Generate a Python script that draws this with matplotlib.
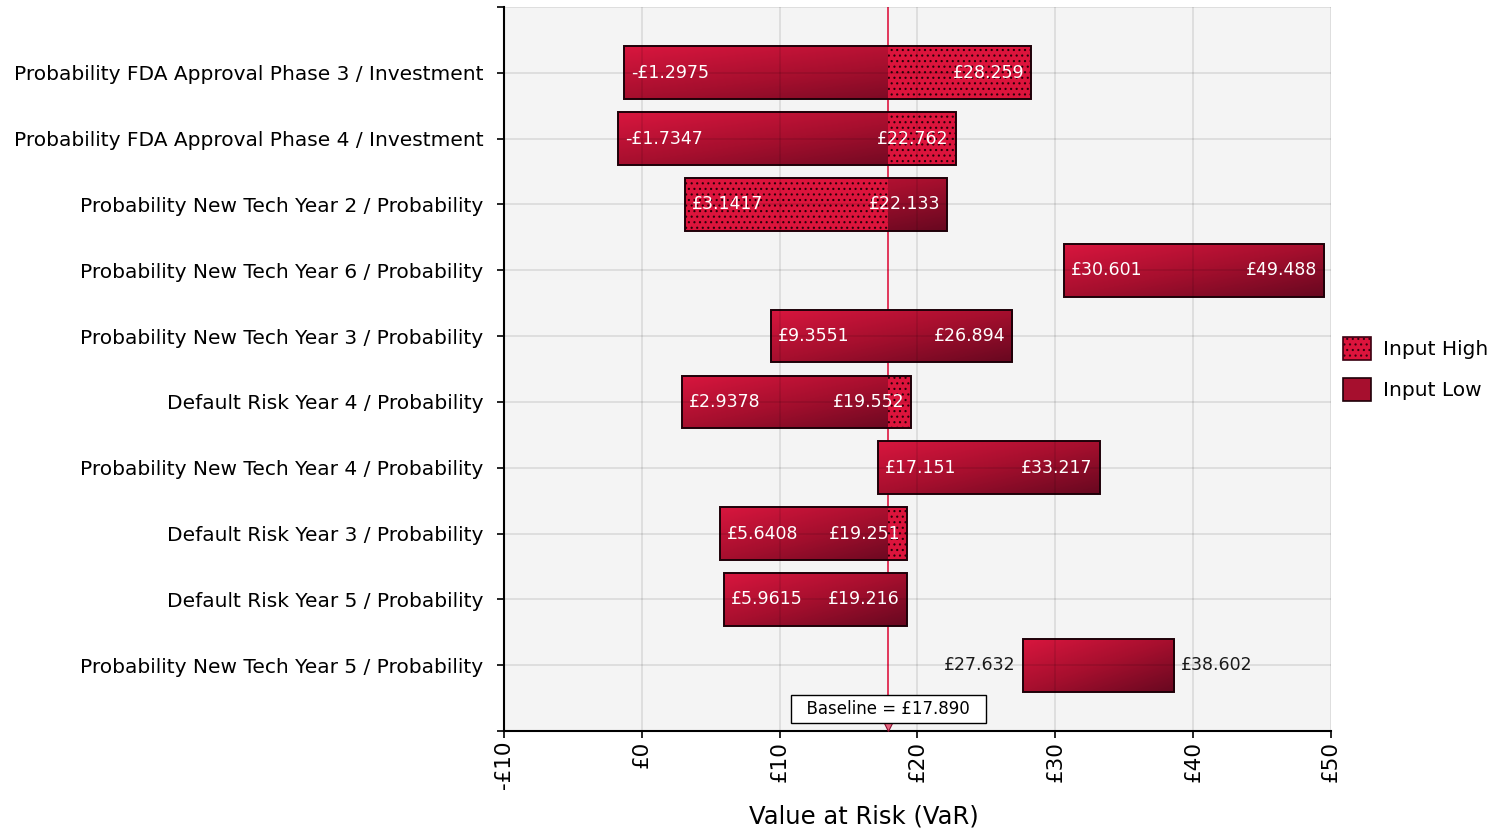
import numpy as np
import matplotlib
matplotlib.use("Agg")
import matplotlib.pyplot as plt
from matplotlib.patches import Rectangle, Patch
from matplotlib.colors import LinearSegmentedColormap

plt.rcParams['font.family'] = ['DejaVu Sans']
plt.rcParams['hatch.linewidth'] = 0.8

labels = [
    "Probability FDA Approval Phase 3 / Investment",
    "Probability FDA Approval Phase 4 / Investment",
    "Probability New Tech Year 2 / Probability",
    "Probability New Tech Year 6 / Probability",
    "Probability New Tech Year 3 / Probability",
    "Default Risk Year 4 / Probability",
    "Probability New Tech Year 4 / Probability",
    "Default Risk Year 3 / Probability",
    "Default Risk Year 5 / Probability",
    "Probability New Tech Year 5 / Probability",
]
min_vals = [-1.2975, -1.7347, 3.1417, 30.601, 9.3551, 2.9378, 17.151, 5.6408, 5.9615, 27.632]
max_vals = [28.259, 22.762, 22.133, 49.488, 26.894, 19.552, 33.217, 19.251, 19.216, 38.602]
# which input end produced the min / max output
min_is_high = [False, False, True, False, False, False, False, False, False, False]
max_is_high = [True, True, False, False, False, True, False, True, False, False]
baseline = 17.890

xticks = [-10, 0, 10, 20, 30, 40, 50]
xtick_labels = ["-£10", "£0", "£10", "£20", "£30", "£40", "£50"]


def money(v):
    s = f"{abs(v):.5g}"
    return ("-£" if v < 0 else "£") + s


grad_cmap = LinearSegmentedColormap.from_list("bar", ["#d8163e", "#a60f2e", "#680820"])
gx = np.linspace(0, 1, 200)
gy = np.linspace(0, 1, 40)
grad = 0.5 * gx[None, :] + 0.5 * gy[:, None]

fig = plt.figure(figsize=(14.99, 8.31), dpi=100)
ax = fig.add_axes([0.3362, 0.1203, 0.5517, 0.8713])
ax.set_facecolor("#f4f4f4")

h = 0.8
ax.axvline(baseline, color="#e0284e", lw=1.3, zorder=1.5)

for r in range(len(labels)):
    lo, hi = min_vals[r], max_vals[r]
    y0 = r - h / 2
    if lo < baseline < hi:
        segs = [(lo, baseline, min_is_high[r]), (baseline, hi, max_is_high[r])]
    else:
        segs = [(lo, hi, max_is_high[r])]
    for a, b, hatched in segs:
        if hatched:
            ax.add_patch(Rectangle((a, y0), b - a, h, facecolor="#dc143c",
                                   edgecolor="#2a0008", hatch="...", lw=0, zorder=2))
        else:
            im = ax.imshow(grad, cmap=grad_cmap, extent=(lo, hi, r + h / 2, y0),
                           origin="upper", aspect="auto", interpolation="bilinear",
                           zorder=2)
            im.set_clip_path(Rectangle((a, y0), b - a, h, transform=ax.transData))
    ax.add_patch(Rectangle((lo, y0), hi - lo, h, fill=False, edgecolor="#1e0008",
                           lw=1.4, zorder=2.2))

    if hi - lo < 12:
        ax.annotate(money(lo), (lo, r), xytext=(-5, 0), textcoords="offset points",
                    ha="right", va="center", fontsize=12.5, color="#1a1a1a", zorder=5)
        ax.annotate(money(hi), (hi, r), xytext=(5, 0), textcoords="offset points",
                    ha="left", va="center", fontsize=12.5, color="#1a1a1a", zorder=5)
    else:
        ax.annotate(money(lo), (lo, r), xytext=(5, 0), textcoords="offset points",
                    ha="left", va="center", fontsize=12.5, color="white", zorder=5)
        ax.annotate(money(hi), (hi, r), xytext=(-5, 0), textcoords="offset points",
                    ha="right", va="center", fontsize=12.5, color="white", zorder=5)

# baseline marker and label
ax.plot(baseline, 9.93, marker="v", ms=7, color="#e8657f", mec="#8a1030", mew=0.8,
        clip_on=False, zorder=6)
ax.text(baseline, 9.67, "  Baseline = £17.890  ", ha="center", va="center", fontsize=12,
        bbox=dict(boxstyle="square,pad=0.3", fc="white", ec="black", lw=1), zorder=7)

ax.set_xlim(-10, 50)
ax.set_ylim(10, -1)
ax.set_xticks(xticks)
ax.set_xticklabels(xtick_labels, rotation=90, fontsize=15.5)
ax.set_yticks(range(-1, 11))
ax.set_yticklabels([""] + labels + [""], fontsize=14.5)
ax.tick_params(axis="both", length=5, width=1.2, color="black")
ax.tick_params(axis="x", pad=2)
ax.tick_params(axis="y", pad=10)
ax.set_xlabel("Value at Risk (VaR)", fontsize=17.5)
ax.xaxis.set_label_coords(0.435, -0.102)

ax.set_axisbelow(False)
ax.grid(True, color="black", alpha=0.1, lw=1.2)
for s in ["top", "right"]:
    ax.spines[s].set_visible(False)
for s in ["left", "bottom"]:
    ax.spines[s].set_linewidth(1.5)
    ax.spines[s].set_zorder(4)

handles = [
    Patch(facecolor="#dc143c", edgecolor="#3a0010", hatch="...", lw=1.2, label="Input High"),
    Patch(facecolor="#a60f2e", edgecolor="#1e0008", lw=1.2, label="Input Low"),
]
ax.legend(handles=handles, loc="center left", bbox_to_anchor=(1.005, 0.5), frameon=False,
          fontsize=14.5, handlelength=1.4, handleheight=1.4, labelspacing=0.9,
          handletextpad=0.6, borderaxespad=0)

fig.savefig("out.png", dpi=100)
